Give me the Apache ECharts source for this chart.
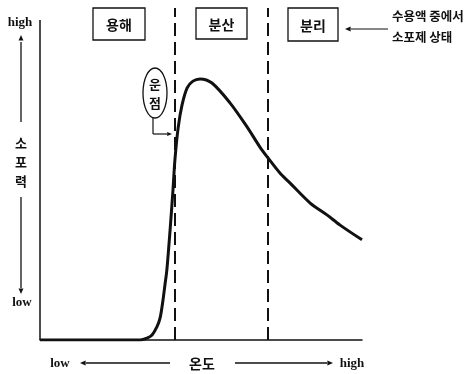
<!DOCTYPE html>
<html><head><meta charset="utf-8">
<script src="https://cdn.jsdelivr.net/npm/echarts@6/dist/echarts.min.js"></script>
<style>html,body{margin:0;padding:0;background:#fff}#c{width:471px;height:374px}</style>
</head><body><div id="c"></div>
<script>
// temperature (0..100 relative) and antifoam power (0..100 relative)
const temperature = [0, 18.6, 31.1, 33.2, 34.8, 36.3, 37.3, 38.2, 38.8, 39.4, 40.4, 41.3, 41.9, 42.9, 44.1, 45.7, 47.5, 49.7, 53.4, 59.0, 64.3, 68.3, 70.8, 74.5, 77.6, 83.9, 89.1, 93.2, 100];
const antifoamPower = [0, 0, 0, 0.6, 1.6, 4.1, 6.9, 12.5, 17.2, 21.9, 34.4, 46.9, 56.3, 66.3, 73.4, 78.8, 80.9, 81.6, 80.3, 74.1, 66.6, 60.3, 56.9, 52.2, 49.1, 42.8, 39.1, 35.9, 31.3];
const boundaries = [41.9, 70.8];
const regionLabels = ['용해', '분산', '분리'];
const axisEndLabels = ['low', 'high'];
const xAxisName = '온도';
const yAxisName = ['소', '포', '력'];
const noteLines = ['수용액 중에서', '소포제 상태'];
const cloudPointLabel = ['운', '점'];

const chart = echarts.init(document.getElementById('c'));
const kr = '"Noto Sans CJK KR", sans-serif';
const serif = '"Liberation Serif", "DejaVu Serif", serif';
const ink = '#111';

function arrowHead(x, y, dir, size) {
  const s = size || 5;
  let pts;
  if (dir === 'left') pts = [[x, y], [x + s * 1.6, y - s * 0.7], [x + s * 1.6, y + s * 0.7]];
  else if (dir === 'right') pts = [[x, y], [x - s * 1.6, y - s * 0.7], [x - s * 1.6, y + s * 0.7]];
  else if (dir === 'up') pts = [[x, y], [x - s * 0.7, y + s * 1.6], [x + s * 0.7, y + s * 1.6]];
  else pts = [[x, y], [x - s * 0.7, y - s * 1.6], [x + s * 0.7, y - s * 1.6]];
  return { type: 'polygon', shape: { points: pts }, style: { fill: ink } };
}
function line(x1, y1, x2, y2, w) {
  return { type: 'line', shape: { x1, y1, x2, y2 }, style: { stroke: ink, lineWidth: w || 1.3 } };
}
function txt(x, y, t, font, size, align) {
  return { type: 'text', x, y, style: { text: t, fontFamily: font, fontSize: size, fontWeight: 'bold', fill: ink, align: align || 'center', verticalAlign: 'middle' } };
}
function box(x, y, w, h, t) {
  return [
    { type: 'rect', shape: { x, y, width: w, height: h }, style: { fill: '#fff', stroke: ink, lineWidth: 1.3 } },
    txt(x + w / 2, y + h / 2 + 1, t, kr, 14)
  ];
}

const graphics = [
  ...box(93, 8, 52, 32, regionLabels[0]),
  ...box(196, 8, 51, 31, regionLabels[1]),
  ...box(288, 8, 50, 33, regionLabels[2]),
  line(351, 29, 388, 29, 1.2), arrowHead(345, 29, 'left', 3.5),
  txt(392, 16, noteLines[0], kr, 12.5, 'left'),
  txt(392, 37, noteLines[1], kr, 12.5, 'left'),
  // y-axis name with arrows
  txt(20, 23, axisEndLabels[1], serif, 13),
  line(21, 42, 21, 122, 1.3), arrowHead(21, 35, 'up', 3.5),
  txt(21, 143, yAxisName[0], kr, 13),
  txt(21, 162, yAxisName[1], kr, 13),
  txt(21, 181, yAxisName[2], kr, 13),
  line(21, 197, 21, 288, 1.3), arrowHead(21, 294, 'down', 3.5),
  txt(22, 303, axisEndLabels[0], serif, 13),
  // x-axis name with arrows
  txt(60, 364, axisEndLabels[0], serif, 13),
  line(86, 363, 170, 363, 1.3), arrowHead(80, 363, 'left', 3.5),
  txt(202, 364, xAxisName, kr, 14),
  line(235, 363, 327, 363, 1.3), arrowHead(333, 363, 'right', 3.5),
  txt(352, 364, axisEndLabels[1], serif, 13),
  // cloud point callout
  { type: 'ellipse', shape: { cx: 155, cy: 93, rx: 12, ry: 25 }, style: { fill: '#fff', stroke: ink, lineWidth: 1.3 } },
  txt(155, 84, cloudPointLabel[0], kr, 13),
  txt(155, 103, cloudPointLabel[1], kr, 13),
  line(153, 118, 153, 134, 1.2), line(153, 134, 167, 134, 1.2), arrowHead(172, 134, 'right', 3)
];

chart.setOption({
  animation: false,
  grid: { left: 40, right: 109, top: 8, bottom: 34 },
  xAxis: {
    type: 'value', min: 0, max: 100,
    axisLine: { show: true, lineStyle: { color: ink, width: 1.5 } },
    axisTick: { show: false }, axisLabel: { show: false }, splitLine: { show: false }
  },
  yAxis: {
    type: 'value', min: 0, max: 103.75,
    axisLine: { show: false }, axisTick: { show: false }, axisLabel: { show: false }, splitLine: { show: false }
  },
  series: [{
    type: 'line',
    data: temperature.map((t, i) => [t, antifoamPower[i]]),
    smooth: 0.3,
    symbol: 'none',
    lineStyle: { color: ink, width: 3 },
    z: 3,
    markLine: {
      silent: true, symbol: 'none', label: { show: false },
      data: [
        [{ coord: [0, 0], lineStyle: { type: 'solid', width: 1.5, color: ink } }, { coord: [0, 100] }],
        ...boundaries.map(b => [{ coord: [b, 0], lineStyle: { type: [13, 6], width: 2, color: ink } }, { coord: [b, 103.75] }])
      ]
    }
  }],
  graphic: graphics
});
</script>
</body></html>
